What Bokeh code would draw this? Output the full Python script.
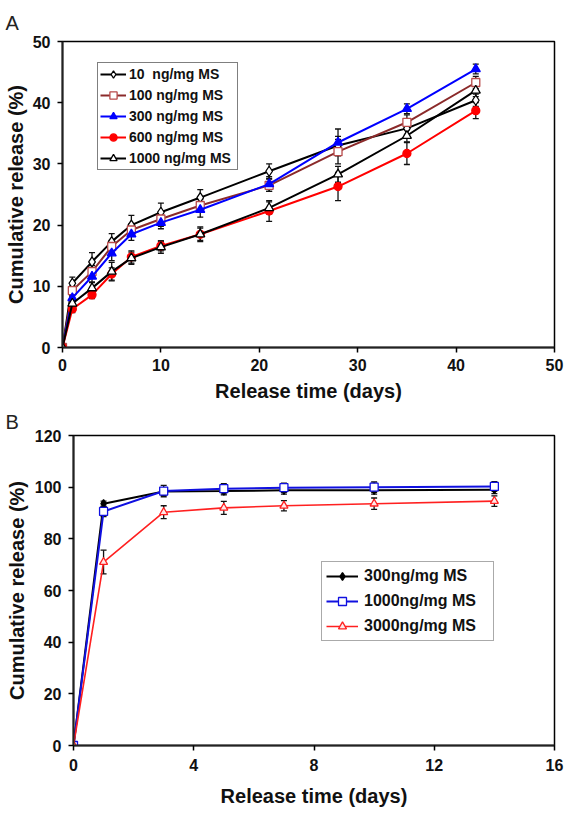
from bokeh.plotting import figure
from bokeh.models import (ColumnDataSource, Whisker, TeeHead, Range1d, FixedTicker,
                          Legend, LegendItem)
from bokeh.embed import file_html
from bokeh.resources import INLINE

FONT = "Liberation Sans"

# ---------------- Panel A data ----------------
days_a = [0, 1, 3, 5, 7, 10, 14, 21, 28, 35, 42]
labels_a = ["10  ng/mg MS", "100 ng/mg MS", "300 ng/mg MS", "600 ng/mg MS", "1000 ng/mg MS"]
r10 = [0, 10.5, 14.0, 17.3, 20.0, 22.1, 24.5, 28.8, 33.0, 35.8, 40.4]
r100 = [0, 9.3, 12.4, 16.5, 19.2, 21.0, 23.2, 26.5, 32.0, 36.8, 43.3]
r300 = [0, 8.1, 11.6, 15.4, 18.5, 20.4, 22.5, 26.7, 33.5, 39.0, 45.5]
r600 = [0, 6.3, 8.6, 12.0, 14.8, 16.6, 18.5, 22.3, 26.3, 31.7, 38.7]
r1000 = [0, 7.2, 9.7, 12.4, 14.6, 16.4, 18.5, 22.8, 28.3, 34.6, 42.0]
e10 = [0, 1.0, 1.5, 1.3, 1.6, 1.5, 1.3, 1.2, 1.5, 1.0, 1.0]
e100 = [0, 0.8, 1.0, 1.0, 1.0, 1.2, 1.0, 1.0, 2.0, 1.2, 1.0]
e300 = [0, 0.8, 1.0, 1.2, 1.0, 1.0, 1.2, 1.2, 2.2, 0.8, 0.8]
e600 = [0, 0.6, 0.6, 1.0, 1.0, 0.8, 1.0, 1.7, 2.3, 1.8, 1.3]
e1000 = [0, 0.8, 1.0, 1.5, 1.0, 1.0, 1.2, 1.0, 1.3, 1.0, 1.0]
xticks_a = [0, 10, 20, 30, 40, 50]
yticks_a = [0, 10, 20, 30, 40, 50]

# ---------------- Panel B data ----------------
days_b = [0, 1, 3, 5, 7, 10, 14]
labels_b = ["300ng/mg MS", "1000ng/mg MS", "3000ng/mg MS"]
b300 = [0, 93.6, 98.3, 98.5, 98.8, 98.8, 99.0]
b1000 = [0, 90.6, 98.5, 99.4, 99.8, 100.0, 100.3]
b3000 = [0, 71.0, 90.3, 92.0, 92.8, 93.6, 94.6]
eb300 = [0, 1.0, 1.5, 1.5, 1.5, 1.5, 1.5]
eb1000 = [0, 2.0, 2.2, 2.0, 1.8, 2.0, 1.8]
eb3000 = [0, 4.6, 2.5, 2.5, 2.0, 2.2, 2.0]
xticks_b = [0, 4, 8, 12, 16]
yticks_b = [0, 20, 40, 60, 80, 100, 120]


def style(p, xt, yt, xl_std, xt_std, yl_std, yt_std):
    p.xgrid.visible = False
    p.ygrid.visible = False
    p.outline_line_color = "black"
    p.outline_line_width = 1.5
    p.xaxis.ticker = FixedTicker(ticks=xt)
    p.yaxis.ticker = FixedTicker(ticks=yt)
    for ax in (p.xaxis[0], p.yaxis[0]):
        ax.axis_line_width = 2
        ax.axis_line_color = "#222222"
        ax.major_tick_line_width = 1.5
        ax.major_tick_out = 5
        ax.major_tick_in = 0
        ax.minor_tick_line_color = None
        ax.major_label_text_font = FONT
        ax.major_label_text_font_style = "bold"
        ax.major_label_text_font_size = "16px"
        ax.major_label_text_color = "#111111"
        ax.axis_label_text_font = FONT
        ax.axis_label_text_font_style = "bold"
        ax.axis_label_text_font_size = "20px"
        ax.axis_label_text_color = "#111111"
    p.xaxis[0].major_label_standoff = xl_std
    p.xaxis[0].axis_label_standoff = xt_std
    p.yaxis[0].major_label_standoff = yl_std
    p.yaxis[0].axis_label_standoff = yt_std
    p.title.text_font = FONT
    p.title.text_font_style = "normal"
    p.title.text_font_size = "20px"
    p.title.text_color = "#222222"


def series(p, x, y, err, line_color, marker, size, fill, mline, lw=2):
    src = ColumnDataSource(dict(x=x, y=y,
                                upper=[a + b for a, b in zip(y, err)],
                                lower=[a - b for a, b in zip(y, err)]))
    w = Whisker(source=src, base="x", upper="upper", lower="lower",
                line_color="#111111", line_width=1.3,
                upper_head=TeeHead(size=6, line_color="#111111", line_width=1.3),
                lower_head=TeeHead(size=6, line_color="#111111", line_width=1.3))
    p.add_layout(w)
    l = p.line("x", "y", source=src, line_color=line_color, line_width=lw)
    s = p.scatter("x", "y", source=src, marker=marker, size=size, fill_color=fill,
                  line_color=mline, line_width=1.3)
    return [l, s]


# ---------------- Figure A ----------------
pa = figure(width=566, height=405, output_backend="svg", toolbar_location=None,
            x_range=Range1d(0, 50), y_range=Range1d(0, 50),
            min_border_left=62, min_border_right=12, min_border_top=41,
            min_border_bottom=58, title="A")
pa.title.align = "left"
pa.title.offset = -57
pa.title.standoff = 16
style(pa, xticks_a, yticks_a, 6, 6, 7, 3)
pa.xaxis.axis_label = "Release time (days)"
pa.yaxis.axis_label = "Cumulative release (%)"

ra = [
    series(pa, days_a, r10, e10, "black", "diamond", 10, "white", "black"),
    series(pa, days_a, r100, e100, "#8B2A2A", "square", 8, "white", "#B84A4A"),
    series(pa, days_a, r300, e300, "#0000FF", "triangle", 9, "#0000FF", "#0000FF"),
    series(pa, days_a, r600, e600, "#FF0000", "circle", 8, "#FF0000", "#FF0000"),
    series(pa, days_a, r1000, e1000, "black", "triangle", 9, "white", "black"),
]
leg_a = Legend(items=[LegendItem(label=lab, renderers=r) for lab, r in zip(labels_a, ra)],
               location=(35, 177), margin=0, padding=2, spacing=3,
               label_height=18, glyph_height=18, glyph_width=26, label_standoff=3,
               label_width=106,
               label_text_font=FONT, label_text_font_style="bold",
               label_text_font_size="14px", label_text_color="#111111",
               border_line_color="black", border_line_width=1.5,
               background_fill_alpha=1)
pa.add_layout(leg_a)

# ---------------- Figure B ----------------
pb = figure(width=566, height=409, output_backend="svg", toolbar_location=None,
            x_range=Range1d(0, 16), y_range=Range1d(0, 120),
            min_border_left=73, min_border_right=12, min_border_top=30,
            min_border_bottom=69, title="B")
pb.title.align = "left"
pb.title.offset = -68
pb.title.standoff = 6
style(pb, xticks_b, yticks_b, 8, 11, 7, 4)
pb.xaxis.axis_label = "Release time (days)"
pb.yaxis.axis_label = "Cumulative release (%)"

rb = [
    series(pb, days_b, b300, eb300, "black", "diamond", 8, "black", "black"),
    series(pb, days_b, b1000, eb1000, "#1010E0", "square", 8, "white", "#1010E0"),
    series(pb, days_b, b3000, eb3000, "#FF2020", "triangle", 8, "#FFE8E8", "#FF2020", lw=1.6),
]
leg_b = Legend(items=[LegendItem(label=lab, renderers=r) for lab, r in zip(labels_b, rb)],
               location=(248, 104), margin=0, padding=4, spacing=5,
               label_height=20, glyph_height=20, glyph_width=32, label_standoff=6,
               label_width=125,
               label_text_font=FONT, label_text_font_style="bold",
               label_text_font_size="16px", label_text_color="#111111",
               border_line_color="#555555", border_line_width=1.2,
               background_fill_alpha=1)
pb.add_layout(leg_b)

open("out.html", "w").write(file_html([pa, pb], INLINE))
